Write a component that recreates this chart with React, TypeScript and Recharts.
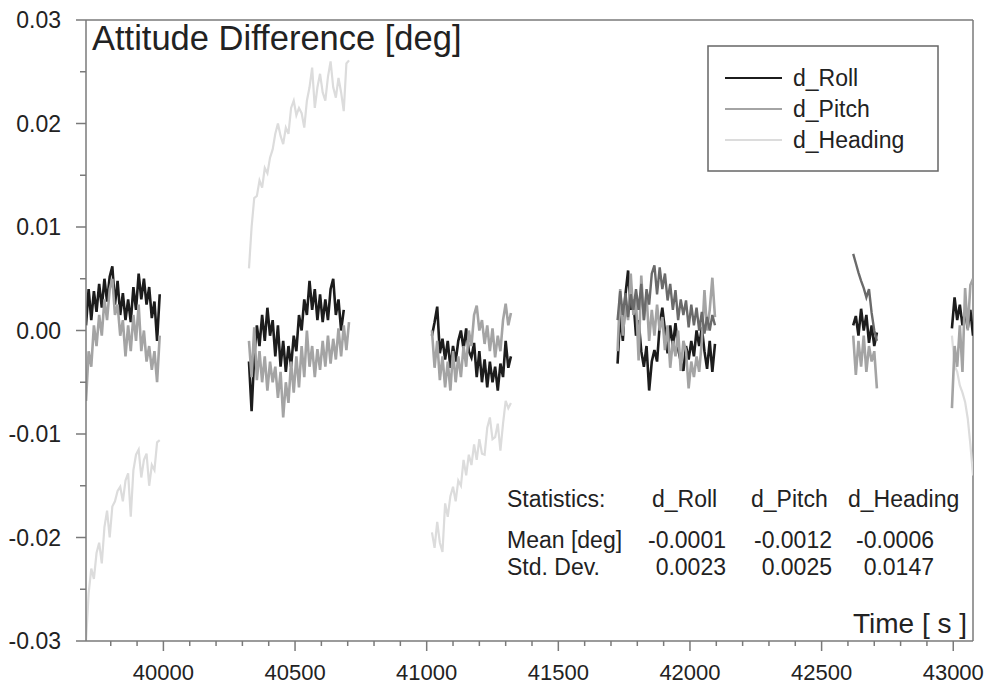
import React from 'react';
import { LineChart, Line, XAxis, YAxis, Customized } from 'recharts';

// First sample time [s] of each recorded block; samples every 10 s
const segmentStart = [39706, 40325, 41020, 41725, 42620, 42995];
const sampleStep = 10;

// Values below are in units of 0.001 deg
const rollSeg1 = [0.5, 4.0, 1.0, 3.8, 1.8, 4.5, 2.2, 5.0, 2.8, 5.2, 6.2, 2.5, 4.8, 1.5, 3.6, 1.0, 3.0, 0.8, 4.2, 2.0, 5.5, 3.0, 5.0, 2.5, 4.2, 1.2, 2.8, -1.0, 3.5];
const pitchSeg1 = [-6.8, -2.0, -3.5, 0.5, -1.5, 1.5, -0.5, 3.0, 1.0, 4.0, 5.0, 1.5, 2.5, -0.5, 1.0, -2.5, 0.5, -2.0, 1.5, -1.0, 2.5, -2.0, 0.0, -3.0, -1.5, -3.8, -2.0, -5.0, -0.5];
const headingSeg1 = [-30.0, -25.4, -23.0, -24.0, -21.5, -20.5, -22.5, -19.0, -17.4, -20.0, -17.0, -16.5, -15.5, -15.1, -16.5, -14.5, -13.8, -18.0, -13.5, -12.0, -11.5, -14.2, -12.5, -11.9, -15.0, -13.0, -13.5, -10.8, -10.6];

const rollSeg2 = [-3.0, -7.8, -2.5, 0.5, -1.5, 1.5, -1.0, 2.2, -0.5, 1.0, -2.5, 0.5, -3.5, -1.0, -4.0, -1.5, -3.5, -0.5, -2.0, 1.5, 0.0, 3.0, 1.5, 4.8, 2.0, 4.0, 1.0, 3.5, 0.8, 3.0, 1.0, 4.0, 5.0, 1.5, 3.0, 0.0, 2.0];
const pitchSeg2 = [-1.0, -4.5, 0.3, -4.8, -2.0, -5.0, -2.5, -5.8, -3.0, -5.0, -3.5, -6.5, -4.0, -8.4, -5.0, -7.0, -3.0, -6.0, -2.5, -5.5, -1.5, -4.5, 0.0, -3.5, -1.5, -4.5, -1.8, -3.8, -1.0, -3.5, -0.5, -3.2, -0.8, -2.8, 0.2, -2.5, 0.5, -1.9, 0.8];
const headingSeg2 = [6.0, 10.0, 12.8, 13.0, 14.5, 13.8, 15.7, 15.2, 16.7, 17.5, 19.0, 20.0, 18.8, 18.0, 19.6, 19.0, 21.5, 22.2, 20.8, 21.5, 21.0, 19.6, 22.2, 23.5, 25.4, 21.5, 23.5, 24.8, 23.0, 22.2, 24.5, 26.0, 23.5, 22.5, 24.4, 23.0, 21.2, 25.8, 26.1];

const rollSeg3 = [-0.5, 0.8, 2.3, -2.2, -0.8, -2.8, -1.0, -3.6, -1.5, -3.0, -1.0, 0.0, -1.8, 0.2, -2.0, -2.6, -1.2, -4.5, -2.0, -5.0, -2.8, -5.5, -3.0, -5.0, -3.5, -5.8, -3.2, -4.5, -1.0, -3.6, -2.5];
const pitchSeg3 = [0.0, -3.6, -1.0, -4.8, -2.5, -5.5, -3.0, -5.8, -2.0, -5.0, -2.5, -4.5, -1.5, -3.5, 0.0, -1.5, 1.5, 2.4, 0.0, 1.0, -1.3, 0.5, -2.0, 0.2, -2.6, -0.5, -2.0, 1.0, 2.6, 0.5, 1.7];
const headingSeg3 = [-19.5, -21.0, -18.5, -20.5, -21.4, -16.7, -18.0, -16.0, -15.1, -16.5, -14.5, -15.0, -12.5, -14.0, -12.0, -13.0, -11.0, -12.5, -10.5, -11.9, -12.0, -9.4, -8.4, -10.5, -10.3, -9.0, -11.6, -9.0, -6.8, -7.5, -7.0];

const rollSeg4 = [-3.2, 1.5, -1.0, 3.5, 5.8, 2.0, 3.0, -0.5, 1.0, -2.0, -3.5, -1.5, -5.8, -3.0, -1.9, -3.0, 0.5, 2.2, 0.0, -2.2, 0.5, -1.5, 0.7, -1.8, -3.0, -3.9, -1.5, -2.8, -1.0, -2.5, 0.0, -1.5, 0.3, -2.0, -3.7, -1.0, -4.0, -1.3];
const pitchSeg4 = [-2.0, 4.0, -0.5, 2.5, 1.0, 5.5, 1.5, 3.0, -2.9, 5.3, 1.0, 3.5, -1.0, 2.0, -0.5, 2.5, 0.0, 1.3, -1.9, 0.5, -3.6, -1.0, -2.5, 0.0, -3.9, -1.0, -2.0, -5.6, -3.0, -4.5, -2.5, -4.0, -1.0, 3.9, 0.0, 2.0, 5.1, 1.3];
const headingSeg4 = [1.0, 3.8, 1.5, 3.6, 1.3, 3.5, 2.0, 4.0, 2.0, 4.5, 1.0, 4.0, 2.5, 5.5, 6.3, 3.5, 6.1, 4.0, 5.5, 2.9, 4.5, 2.0, 3.9, 1.0, 3.0, 1.5, 2.9, 0.3, 2.5, 0.5, 2.2, 0.0, 1.8, -0.3, 1.3, 0.0, 1.5, 0.5];

const rollSeg5 = [0.5, 1.4, -0.5, 2.1, 0.0, 1.5, -1.2, 0.5, -1.5, -0.2];
const pitchSeg5 = [-0.5, -4.3, -1.0, -3.5, -0.5, -4.0, -1.5, -3.0, -2.0, -5.6];
const headingSeg5 = [7.4, 6.5, 5.6, 4.8, 4.1, 3.2, 4.0, 1.7, 0.0, -1.0];

const rollSeg6 = [0.2, 3.2, 1.0, 2.5, 0.5, 1.8, 0.2, 2.0, -0.5];
const pitchSeg6 = [-7.5, -1.5, -3.5, 0.5, -4.0, 4.1, 0.0, 4.4, 5.0];
const headingSeg6 = [-0.5, -3.4, -4.0, -5.3, -6.0, -6.9, -8.5, -11.0, -14.0];

// blocks whose heading trace is printed in the darker grey
const headingDarkBlock = [false, false, false, true, true, false];

const rollSegs = [rollSeg1, rollSeg2, rollSeg3, rollSeg4, rollSeg5, rollSeg6];
const pitchSegs = [pitchSeg1, pitchSeg2, pitchSeg3, pitchSeg4, pitchSeg5, pitchSeg6];
const headingSegs = [headingSeg1, headingSeg2, headingSeg3, headingSeg4, headingSeg5, headingSeg6];

const yTicks = [-0.03, -0.025, -0.02, -0.015, -0.01, -0.005, 0, 0.005, 0.01, 0.015, 0.02, 0.025, 0.03];
const xTicks: number[] = [];
for (let v = 39800; v <= 43000; v += 100) xTicks.push(v);

const statHeaders = ['d_Roll', 'd_Pitch', 'd_Heading'];
const statMean = ['-0.0001', '-0.0012', '-0.0006'];
const statStd = ['0.0023', '0.0025', '0.0147'];

type Row = { t: number; roll: number | null; pitch: number | null; heading: number | null; headingDark: number | null };
const rows: Row[] = [];
segmentStart.forEach((start, s) => {
  const n = Math.max(rollSegs[s].length, pitchSegs[s].length, headingSegs[s].length);
  for (let i = 0; i < n; i++) {
    const r = rollSegs[s][i];
    const p = pitchSegs[s][i];
    const h = headingSegs[s][i];
    const hv = h === undefined ? null : h / 1000;
    rows.push({
      t: start + i * sampleStep,
      roll: r === undefined ? null : r / 1000,
      pitch: p === undefined ? null : p / 1000,
      heading: headingDarkBlock[s] ? null : hv,
      headingDark: headingDarkBlock[s] ? hv : null,
    });
  }
  rows.push({ t: start + n * sampleStep - 4, roll: null, pitch: null, heading: null, headingDark: null });
});

const FONT = '"Liberation Sans", Arial, Helvetica, sans-serif';
const AXIS = '#7a7a7a';
const TXT = '#222';
const C_ROLL = '#1c1c1c';
const C_PITCH = '#a4a4a4';
const C_HEAD = '#dcdcdc';
const C_HEAD_DARK = '#6a6a6a';

const XTick = (props: any) => {
  const { x, y, payload } = props;
  const major = payload.value % 500 === 0;
  return (
    <g>
      <line x1={x} x2={x} y1={y} y2={y + (major ? 10 : 5)} stroke={AXIS} strokeWidth={1.5} />
      {major && (
        <text x={x} y={y + 39} textAnchor="middle" fontFamily={FONT} fontSize={22} fill={TXT}>
          {payload.value}
        </text>
      )}
    </g>
  );
};

const YTick = (props: any) => {
  const { x, y, payload } = props;
  const v = payload.value as number;
  const major = Math.round(v * 1000) % 10 === 0;
  const label = Math.abs(v) < 1e-9 ? '0.00' : v.toFixed(2);
  return (
    <g>
      <line x1={x - (major ? 10 : 6)} x2={x} y1={y} y2={y} stroke={AXIS} strokeWidth={1.5} />
      {major && (
        <text x={x - 25} y={y} dy="0.36em" textAnchor="end" fontFamily={FONT} fontSize={23} fill={TXT}>
          {label}
        </text>
      )}
    </g>
  );
};

const Overlay = () => (
  <g fontFamily={FONT} fill={TXT}>
    {/* frame top & right */}
    <line x1={86} x2={973} y1={20} y2={20} stroke={AXIS} strokeWidth={1.5} />
    <line x1={973} x2={973} y1={20} y2={641} stroke={AXIS} strokeWidth={1.5} />
    <text x={92} y={50} fontSize={34.5}>Attitude Difference [deg]</text>
    {/* legend */}
    <rect x={708} y={46} width={230} height={125} fill="#fff" stroke="#666" strokeWidth={1.5} />
    {[C_ROLL, C_PITCH, C_HEAD].map((c, i) => (
      <g key={i}>
        <line x1={725} x2={782} y1={78 + i * 31} y2={78 + i * 31} stroke={c} strokeWidth={2} />
        <text x={793} y={86 + i * 31} fontSize={23}>{statHeaders[i]}</text>
      </g>
    ))}
    {/* statistics */}
    <text x={507} y={507} fontSize={23}>Statistics:</text>
    <text x={652} y={507} fontSize={23}>{statHeaders[0]}</text>
    <text x={751} y={507} fontSize={23}>{statHeaders[1]}</text>
    <text x={848} y={507} fontSize={23}>{statHeaders[2]}</text>
    <text x={507} y={548} fontSize={23}>Mean [deg]</text>
    <text x={507} y={575} fontSize={23}>Std. Dev.</text>
    {[726, 832, 934].map((xe, i) => (
      <g key={i}>
        <text x={xe} y={548} fontSize={23} textAnchor="end">{statMean[i]}</text>
        <text x={xe} y={575} fontSize={23} textAnchor="end">{statStd[i]}</text>
      </g>
    ))}
    <text x={967} y={633} fontSize={28} textAnchor="end">Time [ s ]</text>
  </g>
);

export default function App() {
  return (
    <div style={{ position: 'absolute', left: 0, top: 0, background: '#fff' }}>
      <LineChart width={991} height={687} data={rows} margin={{ top: 20, right: 18, bottom: 6, left: 0 }}>
        <XAxis
          dataKey="t"
          type="number"
          domain={[39706, 43075]}
          allowDataOverflow
          ticks={xTicks}
          interval={0}
          tick={<XTick />}
          tickLine={false}
          tickSize={0}
          tickMargin={0}
          height={40}
          axisLine={{ stroke: AXIS, strokeWidth: 1.5 }}
        />
        <YAxis
          type="number"
          domain={[-0.03, 0.03]}
          allowDataOverflow
          ticks={yTicks}
          interval={0}
          tick={<YTick />}
          tickLine={false}
          tickSize={0}
          tickMargin={0}
          width={86}
          axisLine={{ stroke: AXIS, strokeWidth: 1.5 }}
        />
        <Line dataKey="heading" name="d_Heading" stroke={C_HEAD} strokeWidth={2.2} dot={false} isAnimationActive={false} />
        <Line dataKey="roll" name="d_Roll" stroke={C_ROLL} strokeWidth={2.6} dot={false} isAnimationActive={false} />
        <Line dataKey="pitch" name="d_Pitch" stroke={C_PITCH} strokeWidth={2.6} dot={false} isAnimationActive={false} />
        <Line dataKey="headingDark" name="d_Heading" legendType="none" stroke={C_HEAD_DARK} strokeWidth={2.4} dot={false} isAnimationActive={false} />
        <Customized component={<Overlay />} />
      </LineChart>
    </div>
  );
}
